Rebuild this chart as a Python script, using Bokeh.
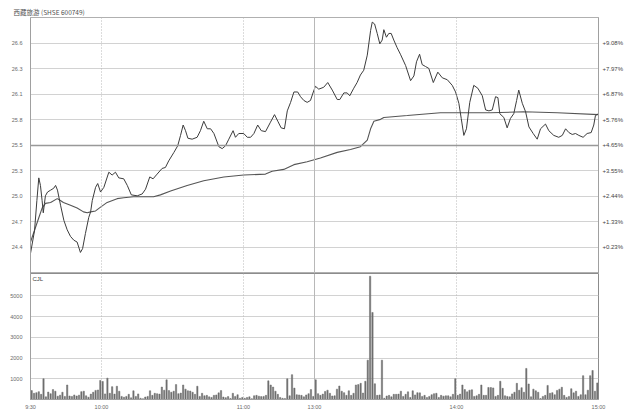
from bokeh.plotting import figure
from bokeh.layouts import column
from bokeh.models import FixedTicker, LinearAxis, Span, Label, Range1d
from bokeh.embed import file_html
from bokeh.resources import INLINE

TITLE = "西藏旅游 (SHSE 600749)"
PREV_CLOSE = 24.39
pct_ticks = [0.23, 1.33, 2.44, 3.55, 4.65, 5.76, 6.87, 7.97, 9.08]
price_tick_labels = ["24.4", "24.7", "25.0", "25.3", "25.5", "25.8", "26.1", "26.3", "26.6"]
pct_tick_labels = ["+0.23%", "+1.33%", "+2.44%", "+3.55%", "+4.65%", "+5.76%", "+6.87%", "+7.97%", "+9.08%"]
time_ticks = [0, 30, 90, 120, 180, 240]
time_labels = ["9:30", "10:00", "11:00", "13:00", "14:00", "15:00"]
vol_ticks = [1000, 2000, 3000, 4000, 5000]
vol_tick_labels = ["1000", "2000", "3000", "4000", "5000"]

# minutes since 9:30 (trading minutes) and price
price_t = [0, 1.7, 2.7, 3.5, 4.2, 4.9, 5.4, 5.9, 6.3, 7.2, 8.5, 9.8, 10.6, 11.4, 12.7, 14.1, 15.5,
           16.9, 18.3, 19.7, 21.1, 22.0, 23.2, 24.6, 25.4, 26.1, 27.5, 28.4, 29.6, 31.0, 33.1, 34.5,
           35.9, 37.3, 39.4, 40.9, 42.6, 45.1, 47.2, 48.6, 50.4, 51.8, 53.5, 55.6, 57.0, 58.4, 60.6,
           62.2, 63.4, 64.5, 65.5, 66.5, 68.3, 70.4, 71.8, 73.2, 74.7, 76.1, 77.5, 79.6, 81.0, 82.4,
           83.8, 85.6, 86.6, 88.0, 90.1, 91.6, 93.0, 94.4, 96.0, 97.5, 99.3, 101.4, 103.1, 104.5,
           105.9, 107.3, 108.5, 109.9, 111.3, 112.9, 114.1, 115.5, 116.9, 118.3, 119.5, 120.4, 121.8,
           123.9, 125.6, 127.5, 129.6, 130.7, 132.4, 133.8, 134.9, 136.6, 138.0, 139.4, 140.8, 142.3,
           143.7, 144.4, 145.4, 146.5, 147.6, 148.6, 149.3, 150.4, 151.4, 152.4, 153.5, 154.9, 156.3,
           158.5, 160.6, 162.0, 163.1, 164.4, 165.5, 166.9, 168.3, 170.2, 172.1, 174.0, 176.1, 178.2,
           179.6, 181.0, 182.0, 183.1, 184.2, 185.6, 187.3, 189.0, 190.9, 192.3, 193.7, 195.1, 196.5,
           197.5, 198.3, 200.0, 201.4, 202.8, 204.2, 205.4, 206.3, 207.8, 209.2, 210.6, 212.4, 214.1,
           215.5, 217.6, 219.0, 221.1, 223.2, 224.7, 226.1, 227.5, 228.9, 230.3, 231.7, 233.5, 235.2,
           236.9, 238.0, 238.7, 240]
price_v = [24.38, 24.62, 24.94, 25.18, 25.10, 24.94, 24.81, 24.91, 24.99, 25.03, 25.05, 25.07, 25.10,
           25.05, 24.89, 24.73, 24.63, 24.56, 24.52, 24.50, 24.39, 24.43, 24.59, 24.76, 24.82, 24.94,
           25.08, 25.12, 25.03, 25.08, 25.24, 25.21, 25.24, 25.18, 25.17, 25.10, 25.00, 24.99, 25.01,
           25.06, 25.19, 25.17, 25.22, 25.28, 25.29, 25.36, 25.45, 25.52, 25.63, 25.74, 25.68, 25.60,
           25.59, 25.61, 25.68, 25.78, 25.70, 25.70, 25.65, 25.51, 25.49, 25.52, 25.59, 25.68, 25.61,
           25.65, 25.65, 25.61, 25.61, 25.65, 25.74, 25.68, 25.67, 25.77, 25.85, 25.78, 25.71, 25.70,
           25.89, 25.98, 26.09, 26.09, 26.04, 26.00, 25.98, 26.00, 26.09, 26.15, 26.12, 26.14, 26.19,
           26.11, 26.01, 26.01, 26.08, 26.08, 26.05, 26.13, 26.19, 26.27, 26.32, 26.48, 26.74, 26.83,
           26.81, 26.71, 26.60, 26.64, 26.75, 26.67, 26.71, 26.71, 26.64, 26.56, 26.49, 26.37, 26.21,
           26.26, 26.41, 26.49, 26.38, 26.36, 26.34, 26.19, 26.30, 26.24, 26.22, 26.16, 26.09, 25.97,
           25.81, 25.63, 25.70, 25.98, 26.16, 26.13, 26.05, 25.90, 25.89, 25.90, 26.04, 26.03, 25.86,
           25.82, 25.71, 25.81, 25.86, 26.00, 26.11, 25.97, 25.88, 25.72, 25.65, 25.59, 25.70, 25.75,
           25.68, 25.63, 25.61, 25.63, 25.70, 25.66, 25.64, 25.65, 25.63, 25.61, 25.65, 25.66, 25.74,
           25.84, 25.86]

avg_t = [0, 3.4, 4.9, 6.3, 8.5, 11.3, 12.0, 13.9, 16.9, 19.7, 22.4, 24.0, 25.4, 27.5, 29.6, 32.4,
         36.6, 39.4, 43.5, 47.7, 52.0, 54.9, 59.2, 66.2, 73.2, 81.7, 90.1, 99.3, 102.1, 107.0, 111.3,
         116.9, 122.5, 129.6, 135.2, 139.4, 142.3, 143.7, 145.1, 147.9, 149.3, 159.2, 173.2, 180.3,
         194.4, 208.4, 222.6, 240]
avg_v = [24.50, 24.75, 24.86, 24.91, 24.92, 24.96, 24.95, 24.92, 24.89, 24.86, 24.82, 24.81, 24.82,
         24.83, 24.87, 24.92, 24.96, 24.97, 24.98, 24.98, 24.98, 25.00, 25.04, 25.10, 25.15, 25.19,
         25.21, 25.22, 25.25, 25.27, 25.32, 25.35, 25.39, 25.45, 25.48, 25.51, 25.58, 25.70, 25.78,
         25.80, 25.82, 25.84, 25.87, 25.87, 25.87, 25.88, 25.87, 25.85]

volume = [
    430, 300, 330, 380, 250, 1000, 130, 360, 280, 480,
    400, 160, 210, 350, 150, 700, 170, 150, 220, 170,
    210, 380, 400, 180, 110, 260, 350, 440, 460, 920,
    870, 270, 1030, 300, 620, 260, 640, 400, 150, 110,
    150, 250, 80, 420, 150, 270, 60, 40, 120, 150,
    420, 200, 300, 280, 260, 600, 450, 950, 430, 350,
    400, 720, 280, 310, 700, 500, 420, 410, 350, 250,
    640, 150, 300, 180, 200, 130, 100, 200, 220, 320,
    430, 120, 90, 140, 50, 300, 150, 230, 60, 100,
    60, 100, 130, 40, 180, 200, 160, 140, 150, 200,
    900, 700, 600, 400, 250, 100, 60, 50, 1000, 180,
    1200, 550, 230, 220, 200, 130, 220, 280, 480, 150,
    950, 280, 200, 260, 390, 450, 300, 170, 180, 500,
    650, 400, 330, 200, 420, 200, 300, 700, 720, 780,
    310, 880, 1900, 5950, 4200, 760, 200, 220, 1900, 60,
    170, 200, 130, 250, 250, 260, 400, 150, 250, 370,
    100, 420, 220, 330, 320, 150, 200, 100, 150, 230,
    280, 300, 100, 200, 160, 180, 180, 130, 250, 1000,
    200, 260, 700, 480, 370, 450, 470, 150, 180, 250,
    700, 200, 200, 580, 580, 560, 150, 200, 880, 540,
    180, 150, 130, 270, 350, 780, 450, 570, 350, 1500,
    750, 130, 500, 420, 350, 50, 150, 200, 680, 300,
    330, 230, 440, 500, 590, 200, 100, 150, 520, 320,
    400, 150, 230, 1150, 230, 450, 1150, 1400, 400, 800,
]

GRID = "#d2d2d2"
AXIS = "#a0a0a0"
TXT = "#444444"
TXT_LIGHT = "#6a6a6a"

price_ticks = [round(PREV_CLOSE * (1 + p / 100), 4) for p in pct_ticks]


def style_axis(ax, standoff, size="5.5px", color=TXT_LIGHT):
    ax.axis_line_color = AXIS
    ax.major_tick_line_color = None
    ax.minor_tick_line_color = None
    ax.major_tick_out = 0
    ax.major_tick_in = 0
    ax.minor_tick_out = 0
    ax.minor_tick_in = 0
    ax.major_label_text_font_size = size
    ax.major_label_text_font = "Liberation Sans"
    ax.major_label_text_color = color
    ax.major_label_standoff = standoff


W = 627
p = figure(width=W, height=273, x_range=Range1d(0, 240), y_range=Range1d(24.167, 26.879),
           x_axis_location=None, toolbar_location=None, output_backend="svg",
           min_border_left=30, min_border_right=29, min_border_top=17, min_border_bottom=0,
           outline_line_color="#b0b0b0", title=TITLE)
p.title.text_font = "Noto Sans CJK SC"
p.title.text_font_size = "6.5px"
p.title.text_font_style = "normal"
p.title.text_color = "#505050"
p.title.align = "left"
p.title.offset = -17
p.title.standoff = 1
p.yaxis.ticker = FixedTicker(ticks=price_ticks)
p.yaxis.major_label_overrides = dict(zip(price_ticks, price_tick_labels))
ax_r = LinearAxis(ticker=FixedTicker(ticks=price_ticks),
                  major_label_overrides=dict(zip(price_ticks, pct_tick_labels)))
p.add_layout(ax_r, "right")
for ax in p.yaxis:
    style_axis(ax, 8)
style_axis(ax_r, 4, size="6px", color=TXT)
p.ygrid.ticker = FixedTicker(ticks=price_ticks)
p.ygrid.grid_line_color = GRID
p.xgrid.visible = False

for t in time_ticks[1:-1]:
    dash = "solid" if t == 120 else "1 2"
    p.add_layout(Span(location=t, dimension="height", line_color="#b8b8b8", line_width=1, line_dash=dash))
p.add_layout(Span(location=price_ticks[4], dimension="width", line_color="#999999", line_width=1.5))

p.line(avg_t, avg_v, line_color="#555555", line_width=1.1)
p.line(price_t, price_v, line_color="#3c3c3c", line_width=1)

v = figure(width=W, height=140, x_range=p.x_range, y_range=Range1d(0, 6080),
           toolbar_location=None, output_backend="svg",
           min_border_left=30, min_border_right=29, min_border_top=0, min_border_bottom=14,
           outline_line_color="#8c8c8c")
v.xaxis.ticker = FixedTicker(ticks=time_ticks)
v.xaxis.major_label_overrides = dict(zip(time_ticks, time_labels))
v.yaxis.ticker = FixedTicker(ticks=vol_ticks)
v.yaxis.major_label_overrides = dict(zip(vol_ticks, vol_tick_labels))
for ax in v.yaxis:
    style_axis(ax, 8)
for ax in v.xaxis:
    style_axis(ax, 4)
v.ygrid.ticker = FixedTicker(ticks=vol_ticks)
v.ygrid.grid_line_color = GRID
v.xgrid.visible = False
for t in time_ticks[1:-1]:
    dash = "solid" if t == 120 else "1 2"
    v.add_layout(Span(location=t, dimension="height", line_color="#b8b8b8", line_width=1, line_dash=dash))

v.vbar(x=[i + 0.5 for i in range(len(volume))], top=volume, width=0.55,
       fill_color="#6f6f6f", line_color="#6f6f6f", line_width=0.5)
v.add_layout(Label(x=0, y=6080, x_offset=2, y_offset=-2, text="CJL", text_baseline="top",
                   text_font="Liberation Sans", text_font_size="6px", text_color=TXT))

layout = column(p, v, spacing=0)
open("out.html", "w").write(file_html(layout, INLINE))
